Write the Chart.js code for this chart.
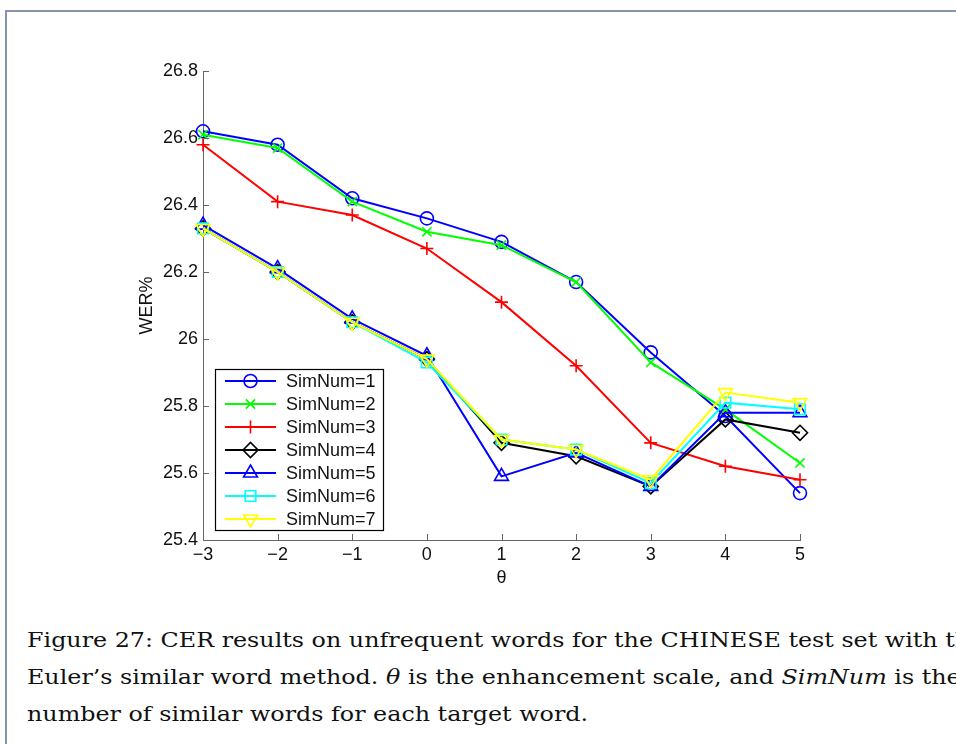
<!DOCTYPE html>
<html>
<head>
<meta charset="utf-8">
<script src="https://cdn.jsdelivr.net/npm/chart.js@4"></script>
<style>
  html, body { margin: 0; padding: 0; background: #fff; overflow: hidden; }
  body { width: 956px; height: 744px; position: relative; }
  #frame {
    position: absolute; left: 5px; top: 10px; right: -10px; bottom: -10px;
    border-top: 2px solid #8495ad; border-left: 2px solid #8495ad;
  }
  #wrap { position: absolute; left: 0; top: 0; width: 956px; height: 600px; }
  #caption {
    position: absolute; left: 27px; top: 622px; width: 1100px;
    font-family: "DejaVu Serif", serif; font-size: 20px; line-height: 37px;
    color: #111; white-space: nowrap;
    transform: scaleX(1.19); transform-origin: 0 0;
  }
  #caption i { font-style: italic; }
</style>
</head>
<body>
<div id="frame"></div>
<div id="wrap"><canvas id="werChart" width="956" height="600"></canvas></div>
<div id="caption">
  <div>Figure 27: CER results on unfrequent words for the CHINESE test set with the</div>
  <div>Euler’s similar word method. <i>θ</i> is the enhancement scale, and <i>SimNum</i> is the</div>
  <div>number of similar words for each target word.</div>
</div>
<script>
// enhancement scale (theta) values on the x axis
const theta = [-3, -2, -1, 0, 1, 2, 3, 4, 5];

// WER% for each SimNum setting
const sim1 = [26.62, 26.58, 26.42, 26.36, 26.29, 26.17, 25.96, 25.77, 25.54];
const sim2 = [26.61, 26.57, 26.41, 26.32, 26.28, 26.17, 25.93, 25.79, 25.63];
const sim3 = [26.58, 26.41, 26.37, 26.27, 26.11, 25.92, 25.69, 25.62, 25.58];
const sim4 = [26.33, 26.20, 26.05, 25.94, 25.69, 25.65, 25.56, 25.76, 25.72];
const sim5 = [26.34, 26.21, 26.06, 25.95, 25.59, 25.66, 25.56, 25.78, 25.78];
const sim6 = [26.33, 26.20, 26.05, 25.93, 25.70, 25.67, 25.57, 25.81, 25.79];
const sim7 = [26.33, 26.20, 26.05, 25.94, 25.70, 25.67, 25.58, 25.84, 25.81];

const seriesNames = ['SimNum=1', 'SimNum=2', 'SimNum=3', 'SimNum=4', 'SimNum=5', 'SimNum=6', 'SimNum=7'];
const seriesValues = [sim1, sim2, sim3, sim4, sim5, sim6, sim7];

const colors = ['#0000ff', '#00ff00', '#ff0000', '#000000', '#0000ff', '#00ffff', '#ffff00'];
const markers = [
  { style: 'circle', radius: 6.5, rotation: 0 },
  { style: 'crossRot', radius: 6.5, rotation: 0 },
  { style: 'cross', radius: 6.5, rotation: 0 },
  { style: 'rectRot', radius: 7.5, rotation: 0 },
  { style: 'triangle', radius: 8, rotation: 0 },
  { style: 'rect', radius: 7.5, rotation: 0 },
  { style: 'triangle', radius: 8, rotation: 180 }
];

const axisColor = '#666666';
const tickFont = { family: '"Liberation Sans", Arial, sans-serif', size: 18 };

const datasets = seriesValues.map((vals, i) => ({
  label: seriesNames[i],
  data: vals.map((v, j) => ({ x: theta[j], y: v })),
  borderColor: colors[i],
  borderWidth: 2,
  pointStyle: markers[i].style,
  pointRadius: markers[i].radius,
  pointRotation: markers[i].rotation,
  pointBorderColor: colors[i],
  pointBackgroundColor: 'rgba(0,0,0,0)',
  pointBorderWidth: 1.6,
  tension: 0,
  clip: false,
  order: seriesValues.length - i  // later series drawn on top
}));

// MATLAB-style ticks pointing into the plot
const innerTicks = {
  id: 'innerTicks',
  afterDraw(chart) {
    const { ctx, chartArea, scales } = chart;
    ctx.save();
    ctx.strokeStyle = axisColor;
    ctx.lineWidth = 1;
    ctx.beginPath();
    scales.y.ticks.forEach((t, i) => {
      const y = Math.round(scales.y.getPixelForTick(i)) + 0.5;
      ctx.moveTo(chartArea.left, y);
      ctx.lineTo(chartArea.left + 6, y);
    });
    scales.x.ticks.forEach((t, i) => {
      const x = Math.round(scales.x.getPixelForTick(i)) + 0.5;
      ctx.moveTo(x, chartArea.bottom);
      ctx.lineTo(x, chartArea.bottom - 6);
    });
    ctx.stroke();
    ctx.restore();
  }
};

// boxed legend in the lower left corner, line + marker per entry
const boxLegend = {
  id: 'boxLegend',
  afterDraw(chart) {
    const { ctx, chartArea } = chart;
    const sets = chart.data.datasets;
    const rowH = 23;
    const w = 168, h = rowH * sets.length;
    const left = chartArea.left + 12;
    const top = chartArea.bottom - 10 - h;
    ctx.save();
    ctx.fillStyle = '#ffffff';
    ctx.fillRect(left, top, w, h);
    ctx.strokeStyle = '#000000';
    ctx.lineWidth = 1.2;
    ctx.strokeRect(left + 0.5, top + 0.5, w, h);
    ctx.font = '18px "Liberation Sans", Arial, sans-serif';
    ctx.textBaseline = 'middle';
    sets.forEach((ds, i) => {
      const y = top + rowH * i + rowH / 2 + 0.5;
      ctx.strokeStyle = ds.borderColor;
      ctx.lineWidth = 2;
      ctx.beginPath();
      ctx.moveTo(left + 10, y);
      ctx.lineTo(left + 61, y);
      ctx.stroke();
      ctx.fillStyle = 'rgba(0,0,0,0)';
      ctx.lineWidth = ds.pointBorderWidth;
      Chart.helpers.drawPoint(ctx, {
        pointStyle: ds.pointStyle,
        radius: ds.pointRadius,
        rotation: ds.pointRotation,
        borderWidth: ds.pointBorderWidth
      }, left + 35.5, y);
      ctx.fillStyle = '#111111';
      ctx.fillText(ds.label, left + 71, y + 1);
    });
    ctx.restore();
  }
};

new Chart(document.getElementById('werChart'), {
  type: 'line',
  data: { datasets: datasets },
  options: {
    responsive: false,
    animation: false,
    layout: { padding: { left: 130, top: 71, right: 156, bottom: 0 } },
    plugins: {
      legend: { display: false },
      tooltip: { enabled: false }
    },
    scales: {
      x: {
        type: 'linear',
        min: -3,
        max: 5,
        afterFit: (scale) => { scale.height = 60; },
        grid: { drawOnChartArea: false, drawTicks: false },
        border: { color: axisColor, width: 1 },
        ticks: {
          stepSize: 1,
          padding: 4,
          color: '#111',
          font: tickFont,
          callback: (v) => (v < 0 ? '\u2212' + Math.abs(v) : String(v))
        },
        title: {
          display: true,
          text: 'θ',
          color: '#111',
          font: tickFont,
          padding: { top: 0, bottom: 11 }
        }
      },
      y: {
        min: 25.4,
        max: 26.8,
        afterFit: (scale) => { scale.width = 73; },
        grid: { drawOnChartArea: false, drawTicks: false },
        border: { color: axisColor, width: 1 },
        ticks: {
          stepSize: 0.2,
          padding: 5,
          color: '#111',
          font: tickFont,
          callback: (v) => String(Number(v.toFixed(1)))
        },
        title: {
          display: true,
          text: 'WER%',
          color: '#111',
          font: tickFont,
          padding: { top: 6, bottom: 0 }
        }
      }
    }
  },
  plugins: [innerTicks, boxLegend]
});
</script>
</body>
</html>
